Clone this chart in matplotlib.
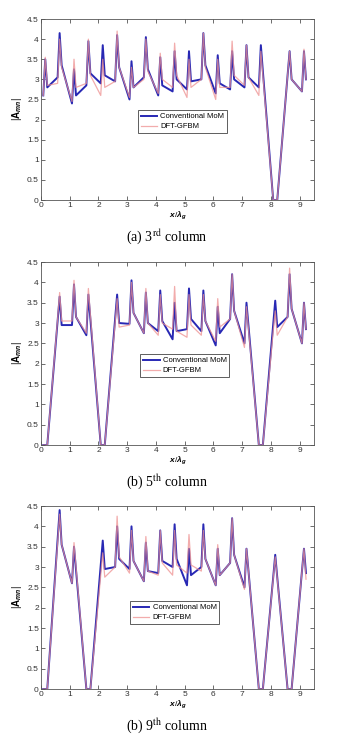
import matplotlib.pyplot as plt

plt.rcParams['font.family'] = ['Liberation Sans', 'DejaVu Sans']
plt.rcParams['mathtext.fontset'] = 'custom'
plt.rcParams['mathtext.rm'] = 'Liberation Sans'
plt.rcParams['mathtext.it'] = 'Liberation Sans:italic:bold'
plt.rcParams['mathtext.bf'] = 'Liberation Sans:bold'

# element positions x/lambda_g
x = [0.08, 0.15, 0.22, 0.58, 0.65, 0.72, 1.08, 1.15, 1.22, 1.58, 1.65, 1.72,
     2.08, 2.15, 2.22, 2.58, 2.65, 2.72, 3.08, 3.15, 3.22, 3.58, 3.65, 3.72,
     4.08, 4.15, 4.22, 4.58, 4.65, 4.72, 5.08, 5.15, 5.22, 5.58, 5.65, 5.72,
     6.08, 6.15, 6.22, 6.58, 6.65, 6.72, 7.08, 7.15, 7.22, 7.58, 7.65, 7.72,
     8.08, 8.15, 8.22, 8.58, 8.65, 8.72, 9.08, 9.15, 9.22]

# (a) 3rd column
mom_3 = [2.6, 3.5, 2.8, 3.05, 4.15, 3.35, 2.4, 3.25, 2.6, 2.85, 3.95, 3.15,
         2.9, 3.85, 3.1, 2.95, 4.1, 3.3, 2.5, 3.45, 2.8, 3.05, 4.05, 3.25,
         2.6, 3.55, 2.85, 2.7, 3.7, 3.0, 2.75, 3.7, 2.95, 3.0, 4.15, 3.35,
         2.65, 3.6, 2.9, 2.75, 3.7, 3.0, 2.8, 3.85, 3.05, 2.8, 3.85, 3.2,
         0.0, 0.0, 0.0, 3.1, 3.7, 3.0, 2.7, 3.7, 3.0]
gfbm_3 = [2.6, 3.55, 2.85, 2.9, 4.0, 3.3, 2.45, 3.5, 2.8, 2.9, 4.0, 3.1,
          2.6, 3.5, 2.8, 2.95, 4.2, 3.3, 2.55, 3.3, 2.8, 3.0, 4.0, 3.2,
          2.65, 3.65, 3.0, 2.8, 3.9, 3.1, 2.55, 3.5, 2.8, 3.0, 4.15, 3.3,
          2.5, 3.5, 2.8, 2.8, 3.95, 3.1, 2.85, 3.85, 3.05, 2.6, 3.7, 3.1,
          0.0, 0.0, 0.0, 3.1, 3.7, 3.0, 2.7, 3.75, 3.0]

# (b) 5th column
mom_5 = [0.0, 0.0, 0.0, 3.05, 3.65, 2.95, 2.95, 3.95, 3.15, 2.7, 3.7, 3.1,
         0.0, 0.0, 0.0, 3.1, 3.7, 3.0, 2.98, 4.05, 3.25, 2.75, 3.75, 3.0,
         2.8, 3.8, 3.05, 2.6, 3.5, 2.8, 2.85, 3.85, 3.1, 2.8, 3.8, 3.05,
         2.45, 3.4, 2.75, 3.1, 4.2, 3.3, 2.5, 3.5, 2.93, 0.0, 0.0, 0.0,
         2.97, 3.55, 2.9, 3.15, 4.2, 3.35, 2.5, 3.5, 2.85]
gfbm_5 = [0.0, 0.0, 0.0, 3.1, 3.75, 3.05, 3.05, 4.05, 3.15, 2.75, 3.85, 3.2,
          0.0, 0.0, 0.0, 3.0, 3.6, 2.9, 2.95, 4.0, 3.25, 2.75, 3.85, 3.0,
          2.7, 3.7, 3.0, 2.85, 3.9, 2.8, 2.65, 3.7, 2.95, 2.7, 3.7, 3.05,
          2.55, 3.6, 2.9, 3.1, 4.2, 3.3, 2.4, 3.4, 2.85, 0.0, 0.0, 0.0,
          2.8, 3.3, 2.7, 3.15, 4.35, 3.35, 2.5, 3.5, 2.85]

# (b) 9th column
mom_9 = [0.0, 0.0, 0.0, 3.68, 4.4, 3.55, 2.6, 3.5, 2.93, 0.0, 0.0, 0.0,
         3.05, 3.65, 2.95, 3.0, 4.0, 3.2, 2.95, 4.0, 3.15, 2.65, 3.6, 2.9,
         2.85, 3.9, 3.15, 3.0, 4.05, 3.2, 2.55, 3.45, 2.8, 3.0, 4.05, 3.2,
         2.55, 3.45, 2.8, 3.1, 4.2, 3.3, 2.5, 3.45, 2.9, 0.0, 0.0, 0.0,
         2.75, 3.3, 2.75, 0.0, 0.0, 0.0, 2.9, 3.45, 2.85]
gfbm_9 = [0.0, 0.0, 0.0, 3.6, 4.3, 3.55, 2.6, 3.6, 3.0, 0.0, 0.0, 0.0,
          2.8, 3.35, 2.75, 3.0, 4.25, 3.25, 2.85, 3.9, 3.15, 2.65, 3.75, 2.9,
          2.8, 3.9, 3.1, 2.8, 3.9, 3.05, 2.85, 3.8, 3.05, 2.9, 3.9, 3.2,
          2.55, 3.55, 2.8, 3.1, 4.2, 3.3, 2.45, 3.45, 2.9, 0.0, 0.0, 0.0,
          2.72, 3.25, 2.72, 0.0, 0.0, 0.0, 2.9, 3.45, 2.7]

panels = [
    (mom_3, gfbm_3, '(a) 3$^{\\mathrm{rd}}$ column', [0.118, 0.7297, 0.787, 0.2446], 0.680, (0.355, 0.495)),
    (mom_5, gfbm_5, '(b) 5$^{\\mathrm{th}}$ column', [0.118, 0.3986, 0.787, 0.2473], 0.349, (0.363, 0.495)),
    (mom_9, gfbm_9, '(b) 9$^{\\mathrm{th}}$ column', [0.118, 0.0689, 0.787, 0.2473], 0.019, (0.326, 0.48)),
]

fig = plt.figure(figsize=(3.47, 7.40), dpi=100)

for mom, gfbm, caption, pos, cap_y, leg_pos in panels:
    ax = fig.add_axes(pos)
    ax.plot(x, mom, color='#2828b4', lw=1.4, label='Conventional MoM')
    ax.plot(x, gfbm, color='#ee9090', lw=0.9, alpha=0.75, label='DFT-GFBM')
    ax.set_xlim(0, 9.5)
    ax.set_ylim(0, 4.5)
    ax.set_xticks(range(10))
    ax.set_yticks([0, 0.5, 1, 1.5, 2, 2.5, 3, 3.5, 4, 4.5])
    ax.set_yticklabels(['0', '0.5', '1', '1.5', '2', '2.5', '3', '3.5', '4', '4.5'])
    ax.tick_params(direction='in', top=True, right=True, labelsize=6, length=3,
                   width=0.5, pad=1.5, colors='#333333')
    for s in ax.spines.values():
        s.set_linewidth(0.6)
        s.set_color('#555555')
    ax.set_xlabel('$x/\\lambda_g$', fontsize=6, labelpad=0)
    ax.set_ylabel('$|\\mathbf{A}_{mn}|$', fontsize=7, labelpad=2)
    leg = ax.legend(loc='upper left', bbox_to_anchor=leg_pos, fontsize=5.5,
                    fancybox=False, edgecolor='#444444', framealpha=1,
                    handlelength=2.2, borderpad=0.35, labelspacing=0.35,
                    handletextpad=0.4, borderaxespad=0)
    leg.get_frame().set_linewidth(0.6)
    fig.text(0.48, cap_y, caption, ha='center', va='center',
             fontsize=10, family='Liberation Serif',
             math_fontfamily='stix')

fig.savefig('out.png', dpi=100)
